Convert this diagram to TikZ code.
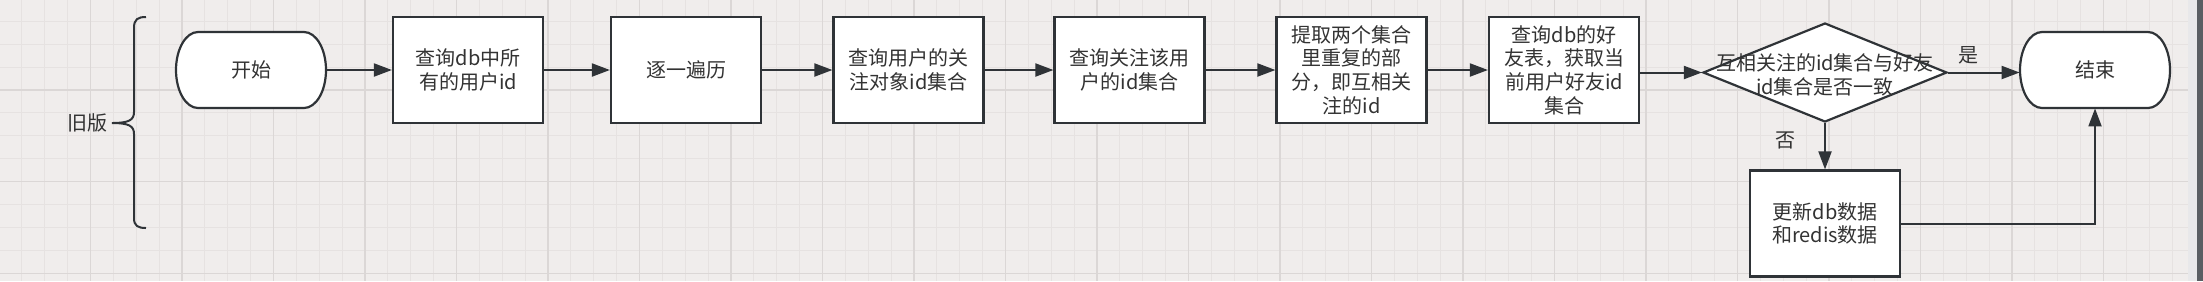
\documentclass[tikz,border=0pt]{standalone}
\usepackage{fontspec}
\setmainfont{Noto Sans CJK SC}
\usetikzlibrary{arrows.meta,shapes.geometric,calc}
\definecolor{bg}{HTML}{F0EDEC}
\definecolor{gmin}{HTML}{E6E2E1}
\definecolor{gmaj}{HTML}{DBD7D6}
\definecolor{ink}{HTML}{2F3337}
\definecolor{txt}{HTML}{333333}
\definecolor{strip}{HTML}{E8E8EA}
\definecolor{bar}{HTML}{5A5E63}
\begin{document}
\begin{tikzpicture}[x=0.5pt,y=-0.5pt,
  font=\fontsize{10pt}{11.8pt}\selectfont, text=txt,
  box/.style={draw=ink, line width=1.1pt, fill=white, minimum width=75pt, minimum height=53pt, align=center, inner sep=0pt},
  termnode/.style={minimum width=75pt, minimum height=38pt, inner sep=0pt},
  termshape/.style={draw=ink, line width=1.1pt, fill=white},
  decision/.style={diamond, draw=ink, line width=1.1pt, fill=white, minimum width=122pt, minimum height=49.5pt, inner sep=0pt},
  flow/.style={draw=ink, line width=1pt, -{Triangle[length=9pt,width=6.5pt]}},
  lbl/.style={align=center, inner sep=0pt},
  minorline/.style={draw=gmin, line width=0.5pt},
  majorline/.style={draw=gmaj, line width=0.7pt}]
\useasboundingbox (0,0) rectangle (2203,281);
% background canvas and grid
\fill[bg] (0,0) rectangle (2188,281);
\foreach \i in {-3,...,91} {\draw[minorline] ({90.4+22.877*\i},0) -- ({90.4+22.877*\i},281);}
\foreach \j in {-3,...,8} {\draw[minorline] (0,{90+22.9*\j}) -- (2188,{90+22.9*\j});}
\foreach \i in {0,4,...,88} {\draw[majorline] ({90.4+22.877*\i},0) -- ({90.4+22.877*\i},281);}
\foreach \j in {0,4,8} {\draw[majorline] (0,{90+22.9*\j}) -- (2188,{90+22.9*\j});}
\fill[strip] (2188,0) rectangle (2197,281);
\fill[bar] (2197,0) rectangle (2203,281);
% brace and its label
\draw[ink, line width=1pt] (146,17) .. controls (138,17) and (134,19) .. (134,28) -- (134,112)
  .. controls (134,120) and (129,123) .. (112,123)
  .. controls (129,123) and (134,126) .. (134,134) -- (134,218)
  .. controls (134,226) and (138,228) .. (146,228);
\node[lbl] (old) at (87.5,123) {旧版};
% terminators
\draw[termshape] (198,32) -- (304,32) arc[start angle=90,end angle=-90,x radius=11pt,y radius=19pt] -- (198,108) arc[start angle=270,end angle=90,x radius=11pt,y radius=19pt] -- cycle;
\node[termnode] (start) at (251,70) {开始};
\draw[termshape] (2042,32) -- (2148,32) arc[start angle=90,end angle=-90,x radius=11pt,y radius=19pt] -- (2042,108) arc[start angle=270,end angle=90,x radius=11pt,y radius=19pt] -- cycle;
\node[termnode] (end) at (2095,70) {结束};
% process boxes
\node[box] (b1) at (468,70) {查询db中所\\有的用户id};
\node[box] (b2) at (686,70) {逐一遍历};
\node[box] (b3) at (908.5,70) {查询用户的关\\注对象id集合};
\node[box] (b4) at (1129.5,70) {查询关注该用\\户的id集合};
\node[box] (b5) at (1351.5,70) {提取两个集合\\里重复的部\\分，即互相关\\注的id};
\node[box] (b6) at (1564,70) {查询db的好\\友表，获取当\\前用户好友id\\集合};
\node[decision] (dia) at (1825,72.5) {};
\node[lbl] (diatext) at (1825,75) {互相关注的id集合与好友\\id集合是否一致};
\node[box] (b7) at (1825,223.5) {更新db数据\\和redis数据};
% connectors
\draw[flow] (start) -- (b1);
\draw[flow] (b1) -- (b2);
\draw[flow] (b2) -- (b3);
\draw[flow] (b3) -- (b4);
\draw[flow] (b4) -- (b5);
\draw[flow] (b5) -- (b6);
\draw[flow] (b6.east |- dia.west) -- (dia.west);
\draw[flow] (dia.east) -- (dia.east -| end.west);
\node[lbl] (yes) at (1968,55) {是};
\draw[flow] (dia.south) -- (b7.north);
\node[lbl] (no) at (1785,140) {否};
\draw[flow] (b7.east) -| (end.south);
\end{tikzpicture}
\end{document}
